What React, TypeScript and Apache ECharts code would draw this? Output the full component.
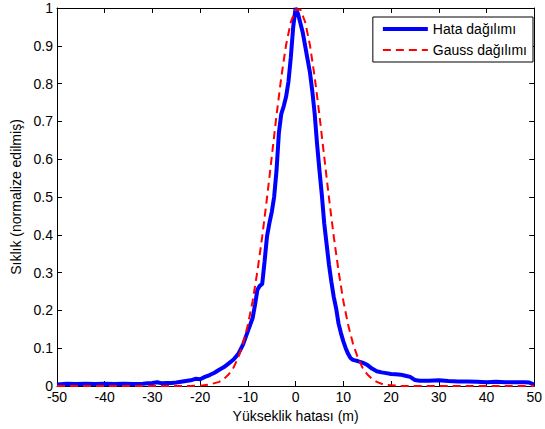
import React, { useEffect, useRef } from "react";
import * as echarts from "echarts";

const xTicks = [-50, -40, -30, -20, -10, 0, 10, 20, 30, 40, 50];

const blueX = [
  -50, -48, -46, -44, -42, -40, -38, -36, -34, -32, -31, -30, -29, -28, -27, -26, -25, -24, -23, -22, -21, -20,
  -19, -18, -17, -16, -15, -14, -13, -12, -11, -10, -9, -8.5, -8, -7.5, -7, -6.5, -6, -5.5, -5, -4.5, -4, -3.5,
  -3, -2.5, -2, -1.5, -1, -0.5, 0, 0.5, 1, 1.5, 2, 2.5, 3, 3.5, 4, 4.5, 5, 5.5, 6, 6.5, 7, 7.5, 8, 8.5, 9, 9.5,
  10, 10.5, 11, 11.5, 12, 13, 14, 15, 16, 17, 18, 19, 20, 21, 22, 23, 24, 25, 26, 28, 30, 32, 34, 36, 38, 40,
  42, 44, 46, 48, 49, 50,
];
const blueY = [
  0.004, 0.006, 0.005, 0.006, 0.005, 0.006, 0.005, 0.006, 0.005, 0.006, 0.007, 0.008, 0.01, 0.007, 0.008,
  0.008, 0.009, 0.011, 0.013, 0.015, 0.019, 0.018, 0.024, 0.029, 0.035, 0.043, 0.05, 0.06, 0.07, 0.085, 0.11,
  0.145, 0.18, 0.215, 0.255, 0.265, 0.27, 0.33, 0.395, 0.43, 0.46, 0.5, 0.57, 0.67, 0.72, 0.74, 0.765, 0.805,
  0.87, 0.95, 1.0, 0.985, 0.96, 0.935, 0.9, 0.865, 0.83, 0.78, 0.72, 0.64, 0.57, 0.505, 0.43, 0.375, 0.32,
  0.275, 0.235, 0.205, 0.165, 0.14, 0.118, 0.1, 0.085, 0.074, 0.069, 0.066, 0.062, 0.056, 0.046, 0.039, 0.036,
  0.034, 0.032, 0.031, 0.03, 0.027, 0.024, 0.016, 0.014, 0.014, 0.015, 0.013, 0.012, 0.012, 0.011, 0.01, 0.011,
  0.01, 0.01, 0.01, 0.009, 0.004,
];

const gaussX = [
  -50, -30, -22, -20, -18, -16, -15, -14, -13, -12, -11, -10, -9, -8, -7, -6, -5, -4, -3, -2, -1, 0, 1, 2, 3, 4,
  5, 6, 7, 8, 9, 10, 11, 12, 13, 14, 15, 16, 17, 18, 19, 20, 22, 30, 50,
];
const gaussY = [
  0, 0, 0, 0.001, 0.004, 0.011, 0.019, 0.031, 0.049, 0.076, 0.113, 0.162, 0.225, 0.304, 0.395, 0.497, 0.606,
  0.716, 0.817, 0.902, 0.963, 0.996, 0.996, 0.963, 0.902, 0.817, 0.716, 0.606, 0.497, 0.395, 0.304, 0.225, 0.162,
  0.113, 0.076, 0.049, 0.031, 0.019, 0.011, 0.006, 0.003, 0.002, 0, 0, 0,
];

const seriesNames = ["Hata dağılımı", "Gauss dağılımı"];
const xTitle = "Yükseklik hatası (m)";
const yTitle = "Sıklık (normalize edilmiş)";

const FONT = "Liberation Sans";
const FS = 14;

export default function App() {
  const ref = useRef<HTMLDivElement>(null);
  useEffect(() => {
    if (!ref.current) return;
    const chart = echarts.init(ref.current, null, { renderer: "svg" });
    const tickStyle = { show: true, inside: true, length: 5, lineStyle: { color: "#000", width: 1 } };
    const lineStyle = { show: true, onZero: false, lineStyle: { color: "#000", width: 1 } };
    chart.setOption({
      animation: false,
      backgroundColor: "#fff",
      textStyle: { fontFamily: FONT },
      grid: { left: 57, right: 7, top: 8, bottom: 43, containLabel: false },
      legend: {
        orient: "vertical",
        right: 12,
        top: 17,
        backgroundColor: "#fff",
        borderColor: "#000",
        borderWidth: 1,
        borderRadius: 0,
        padding: [5, 6, 5, 8],
        itemGap: 7,
        itemWidth: 45,
        itemHeight: 14,
        itemStyle: { opacity: 0 },
        textStyle: { fontFamily: FONT, fontSize: FS, color: "#000" },
        data: [
          { name: seriesNames[0], lineStyle: { width: 4, color: "#0000ff" } },
          { name: seriesNames[1], lineStyle: { width: 2, color: "#ff0000", type: [8, 5] } },
        ],
      },
      xAxis: [
        {
          type: "value",
          min: -50,
          max: 50,
          interval: 10,
          position: "bottom",
          axisLine: lineStyle,
          axisTick: tickStyle,
          splitLine: { show: false },
          axisLabel: { fontFamily: FONT, fontSize: FS, color: "#000", margin: 4 },
          name: xTitle,
          nameLocation: "middle",
          nameGap: 22,
          nameTextStyle: { fontFamily: FONT, fontSize: FS, color: "#000" },
        },
        {
          type: "value",
          min: -50,
          max: 50,
          interval: 10,
          position: "top",
          axisLine: lineStyle,
          axisTick: tickStyle,
          splitLine: { show: false },
          axisLabel: { show: false },
        },
      ],
      yAxis: [
        {
          type: "value",
          min: 0,
          max: 1,
          interval: 0.1,
          position: "left",
          axisLine: lineStyle,
          axisTick: tickStyle,
          splitLine: { show: false },
          axisLabel: {
            fontFamily: FONT,
            fontSize: FS,
            color: "#000",
            margin: 4,
            formatter: (v: number) => String(Math.round(v * 10) / 10),
          },
          name: yTitle,
          nameLocation: "middle",
          nameGap: 33,
          nameRotate: 90,
          nameTextStyle: { fontFamily: FONT, fontSize: FS, color: "#000" },
        },
        {
          type: "value",
          min: 0,
          max: 1,
          interval: 0.1,
          position: "right",
          axisLine: lineStyle,
          axisTick: tickStyle,
          splitLine: { show: false },
          axisLabel: { show: false },
        },
      ],
      series: [
        {
          name: seriesNames[0],
          type: "line",
          xAxisIndex: 0,
          yAxisIndex: 0,
          symbol: "none",
          data: blueX.map((x, i) => [x, blueY[i]]),
          lineStyle: { color: "#0000ff", width: 4 },
          itemStyle: { color: "#0000ff" },
          z: 2,
        },
        {
          name: seriesNames[1],
          type: "line",
          xAxisIndex: 0,
          yAxisIndex: 0,
          symbol: "none",
          data: gaussX.map((x, i) => [x, gaussY[i]]),
          lineStyle: { color: "#ff0000", width: 2, type: [8, 5] },
          itemStyle: { color: "#ff0000" },
          z: 3,
        },
      ],
    });
    return () => chart.dispose();
  }, []);
  return (
    <div
      ref={ref}
      style={{ position: "fixed", left: 0, top: 0, width: 545, height: 429, background: "#fff" }}
    />
  );
}
